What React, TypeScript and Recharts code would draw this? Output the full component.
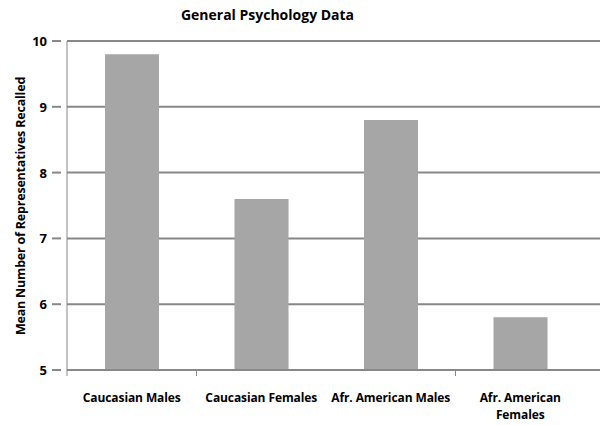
import React from "react";
import { BarChart, Bar, XAxis, YAxis, CartesianGrid } from "recharts";

const categories = ["Caucasian Males", "Caucasian Females", "Afr. American Males", "Afr. American Females"];
const meanRecalled = [9.8, 7.6, 8.8, 5.8];
const yTicks = [5, 6, 7, 8, 9, 10];

const data = categories.map((c, i) => ({ name: c, value: meanRecalled[i] }));

const FONT = "'Open Sans', 'DejaVu Sans', sans-serif";

const wrapLabel = (s: string): string[] => {
  if (s.length <= 19) return [s];
  const idx = s.lastIndexOf(" ");
  return [s.slice(0, idx), s.slice(idx + 1)];
};

const XTick = (props: any) => {
  const { x, y, payload, index } = props;
  const half = 64.75;
  const lines = wrapLabel(String(payload.value));
  return (
    <g>
      {index !== 2 && (
        <line x1={x - half} x2={x - half} y1={y - 8} y2={y - 2} stroke="#888" strokeWidth={1} />
      )}
      <text
        x={x}
        y={y + 24}
        textAnchor="middle"
        style={{ fontFamily: FONT, fontSize: 12, fontWeight: 700, fill: "#000", letterSpacing: -0.1 }}
      >
        {lines.map((l, i) => (
          <tspan key={i} x={x} dy={i === 0 ? 0 : 17}>
            {l}
          </tspan>
        ))}
      </text>
    </g>
  );
};

const YTick = (props: any) => {
  const { x, y, payload } = props;
  return (
    <g>
      <line x1={x - 7} x2={x + 2} y1={y} y2={y} stroke="#888" strokeWidth={2} />
      <text
        x={x - 12}
        y={y + 5}
        textAnchor="end"
        style={{ fontFamily: FONT, fontSize: 13, fontWeight: 700, fill: "#000" }}
      >
        {payload.value}
      </text>
    </g>
  );
};

export default function App() {
  return (
    <div style={{ position: "absolute", left: 0, top: 0, width: 601, height: 425, background: "#fff" }}>
      <div
        style={{
          position: "absolute",
          left: 0,
          width: 535,
          top: 5,
          textAlign: "center",
          fontFamily: FONT,
          fontSize: 14,
          fontWeight: 700,
          color: "#000",
        }}
      >
        General Psychology Data
      </div>
      <div
        style={{
          position: "absolute",
          left: 20,
          top: 206,
          transform: "translate(-50%, -50%) rotate(-90deg)",
          whiteSpace: "nowrap",
          fontFamily: FONT,
          fontSize: 12.5,
          fontWeight: 700,
          letterSpacing: -0.2,
          color: "#000",
        }}
      >
        Mean Number of Representatives Recalled
      </div>
      <BarChart
        width={601}
        height={425}
        data={data}
        margin={{ top: 41, right: 1, bottom: 5, left: 0 }}
        style={{ position: "absolute", left: 0, top: 0 }}
      >
        <CartesianGrid vertical={false} stroke="#888" strokeWidth={2} horizontalValues={yTicks} />
        <XAxis
          dataKey="name"
          height={50}
          padding={{ left: 0, right: 15 }}
          axisLine={{ stroke: "#888", strokeWidth: 2 }}
          tickLine={false}
          interval={0}
          tick={<XTick />}
        />
        <YAxis
          width={67}
          domain={[5, 10]}
          ticks={yTicks}
          allowDataOverflow
          axisLine={{ stroke: "#888", strokeWidth: 1 }}
          tickLine={false}
          tick={<YTick />}
        />
        <Bar dataKey="value" fill="#A6A6A6" barSize={54} isAnimationActive={false} />
      </BarChart>
    </div>
  );
}
